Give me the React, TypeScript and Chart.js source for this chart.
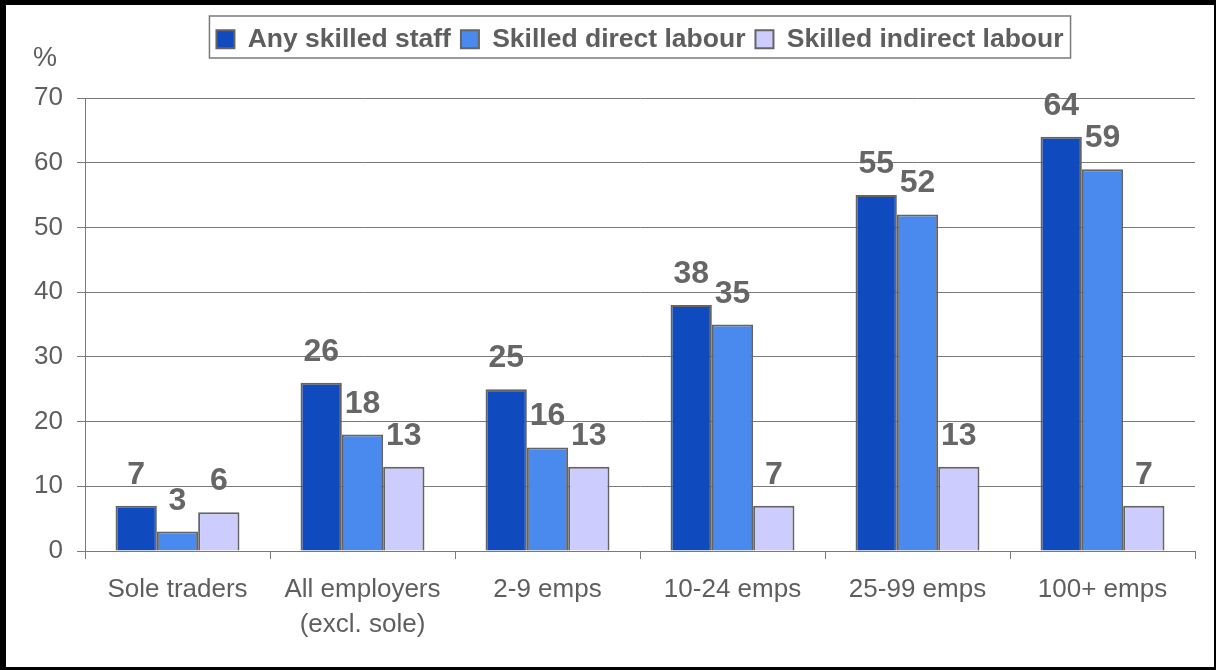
import React, { useEffect, useRef } from "react";
import { Chart, registerables } from "chart.js";

Chart.register(...registerables);

const categories: (string | string[])[] = [
  "Sole traders",
  ["All employers", "(excl. sole)"],
  "2-9 emps",
  "10-24 emps",
  "25-99 emps",
  "100+ emps",
];
const anySkilled = [7, 26, 25, 38, 55, 64];
const skilledDirect = [3, 18, 16, 35, 52, 59];
const skilledIndirect = [6, 13, 13, 7, 13, 7];
const seriesNames = ["Any skilled staff", "Skilled direct labour", "Skilled indirect labour"];
const seriesColors = ["#0F4BBE", "#4A89EE", "#CCCCFF"];
const yTicks = [0, 10, 20, 30, 40, 50, 60, 70];

const FONT = "'Liberation Sans', Arial, Helvetica, sans-serif";
const TEXT_GRAY = "#5E5E5E";
const LINE_GRAY = "#7A7A7A";

const dataLabels = {
  id: "dataLabels",
  afterDatasetsDraw(chart: any) {
    const ctx = chart.ctx;
    ctx.save();
    ctx.font = `bold 32px ${FONT}`;
    ctx.fillStyle = "#666666";
    ctx.textAlign = "center";
    ctx.textBaseline = "alphabetic";
    chart.data.datasets.forEach((ds: any, i: number) => {
      const meta = chart.getDatasetMeta(i);
      meta.data.forEach((el: any, j: number) => {
        ctx.fillText(String(ds.data[j]), el.x, el.y - 22);
      });
    });
    ctx.restore();
  },
};

const legendFrame = {
  id: "legendFrame",
  afterDraw(chart: any) {
    const lg = chart.legend;
    if (!lg || !lg.legendHitBoxes || !lg.legendHitBoxes.length) return;
    const boxes = lg.legendHitBoxes;
    const first = boxes[0];
    const last = boxes[boxes.length - 1];
    const left = first.left - 7;
    const right = last.left + last.width + 7;
    const top = first.top - 10;
    const bottom = first.top + first.height + 5.5;
    const ctx = chart.ctx;
    ctx.save();
    ctx.strokeStyle = LINE_GRAY;
    ctx.lineWidth = 1.5;
    ctx.strokeRect(left, top, right - left, bottom - top);
    ctx.restore();
  },
};

export default function App() {
  const ref = useRef<HTMLCanvasElement | null>(null);

  useEffect(() => {
    if (!ref.current) return;
    const values = [anySkilled, skilledDirect, skilledIndirect];
    const chart = new Chart(ref.current, {
      type: "bar",
      data: {
        labels: categories,
        datasets: values.map((v, i) => ({
          label: seriesNames[i],
          data: v,
          backgroundColor: seriesColors[i],
          borderColor: "#646464",
          borderWidth: 2,
          barPercentage: 1,
          categoryPercentage: 0.67,
        })),
      },
      options: {
        responsive: false,
        animation: false,
        layout: { padding: { left: 33, top: 16, right: 21, bottom: 0 } },
        plugins: {
          legend: {
            position: "top",
            fullSize: false,
            labels: {
              boxWidth: 18,
              boxHeight: 18,
              padding: 10,
              color: TEXT_GRAY,
              font: { family: FONT, size: 26.5, weight: "bold" },
            },
          },
          title: {
            display: true,
            text: "%",
            align: "start",
            fullSize: true,
            weight: 500,
            color: TEXT_GRAY,
            font: { family: FONT, size: 27, weight: "normal", lineHeight: 1 },
            padding: { top: -17, bottom: 25.5 },
          },
          tooltip: { enabled: false },
        },
        scales: {
          x: {
            offset: true,
            afterFit(scale: any) {
              scale.height = 119;
            },
            grid: {
              display: true,
              offset: true,
              drawOnChartArea: false,
              drawTicks: true,
              tickLength: 8,
              color: LINE_GRAY,
              lineWidth: 1,
            },
            border: { display: true, color: LINE_GRAY, width: 1 },
            ticks: {
              autoSkip: false,
              maxRotation: 0,
              minRotation: 0,
              padding: 13.5,
              color: TEXT_GRAY,
              font: { family: FONT, size: 26, lineHeight: 1.35 },
            },
          },
          y: {
            min: 0,
            max: 70,
            afterFit(scale: any) {
              scale.width = 52;
            },
            afterBuildTicks(scale: any) {
              scale.ticks = yTicks.map((v) => ({ value: v }));
            },
            grid: {
              color: LINE_GRAY,
              lineWidth: 1,
              drawTicks: true,
              tickLength: 8,
            },
            border: { display: true, color: LINE_GRAY, width: 1 },
            ticks: {
              padding: 14,
              color: TEXT_GRAY,
              font: { family: FONT, size: 26 },
            },
          },
        },
      },
      plugins: [dataLabels, legendFrame],
    });
    return () => chart.destroy();
  }, []);

  return (
    <div style={{ position: "fixed", left: 0, top: 0, width: 1216, height: 670, background: "#fff" }}>
      <canvas ref={ref} width={1216} height={670} style={{ position: "absolute", left: 0, top: 0, width: 1216, height: 670 }} />
      <div
        style={{
          position: "absolute",
          left: 0,
          top: 0,
          width: 1216,
          height: 670,
          boxSizing: "border-box",
          borderLeft: "6px solid #000",
          borderTop: "5px solid #000",
          borderRight: "2px solid #000",
          borderBottom: "3px solid #000",
          pointerEvents: "none",
        }}
      />
    </div>
  );
}
